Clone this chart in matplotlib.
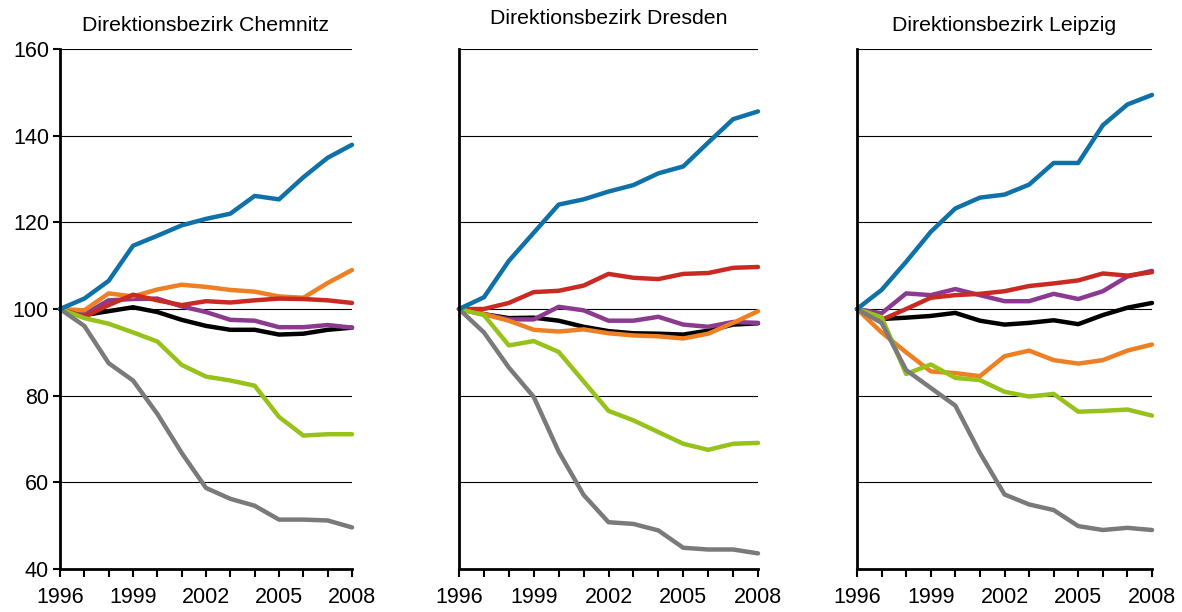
import matplotlib.pyplot as plt

plt.rcParams['font.family'] = ['Liberation Sans', 'DejaVu Sans']

years = list(range(1996, 2009))
titles = ['Direktionsbezirk Chemnitz', 'Direktionsbezirk Dresden', 'Direktionsbezirk Leipzig']

# index values per district (1996 = 100)
chemnitz = {
    'black':  [100, 98.6, 99.5, 100.4, 99.3, 97.5, 96.1, 95.2, 95.2, 94.1, 94.3, 95.2, 95.7],
    'purple': [100, 98.8, 102.0, 102.3, 102.4, 100.6, 99.3, 97.5, 97.3, 95.8, 95.8, 96.3, 95.7],
    'orange': [100, 99.7, 103.6, 102.9, 104.5, 105.6, 105.1, 104.4, 104.0, 102.9, 102.6, 106.0, 109.0],
    'red':    [100, 98.2, 100.9, 103.3, 102.0, 100.9, 101.8, 101.5, 102.0, 102.4, 102.3, 102.0, 101.4],
    'green':  [100, 97.9, 96.6, 94.6, 92.5, 87.1, 84.4, 83.5, 82.3, 75.1, 70.8, 71.1, 71.1],
    'grey':   [100, 96.1, 87.5, 83.5, 75.8, 66.8, 58.7, 56.2, 54.6, 51.4, 51.4, 51.2, 49.6],
    'blue':   [100, 102.4, 106.5, 114.6, 116.9, 119.3, 120.8, 122.0, 126.1, 125.3, 130.4, 134.9, 137.9],
}
dresden = {
    'black':  [100, 98.8, 97.9, 98.0, 97.3, 95.9, 94.9, 94.4, 94.3, 94.1, 95.0, 96.4, 96.7],
    'purple': [100, 98.8, 97.6, 97.6, 100.5, 99.7, 97.3, 97.3, 98.2, 96.4, 95.9, 97.0, 96.8],
    'orange': [100, 98.8, 97.3, 95.2, 94.8, 95.3, 94.4, 93.9, 93.7, 93.2, 94.3, 96.8, 99.5],
    'red':    [100, 100.0, 101.4, 103.9, 104.2, 105.4, 108.1, 107.2, 106.9, 108.1, 108.3, 109.5, 109.7],
    'green':  [100, 98.6, 91.6, 92.6, 90.1, 83.3, 76.5, 74.3, 71.6, 68.9, 67.5, 68.9, 69.1],
    'grey':   [100, 94.6, 86.5, 79.7, 67.1, 57.1, 50.8, 50.4, 48.9, 44.9, 44.5, 44.5, 43.6],
    'blue':   [100, 102.7, 111.1, 117.6, 124.1, 125.3, 127.1, 128.6, 131.3, 132.9, 138.4, 143.8, 145.6],
}
leipzig = {
    'black':  [100, 97.7, 98.0, 98.4, 99.1, 97.3, 96.4, 96.8, 97.4, 96.5, 98.6, 100.3, 101.4],
    'purple': [100, 99.0, 103.6, 103.2, 104.6, 103.2, 101.8, 101.8, 103.5, 102.3, 104.1, 107.5, 108.8],
    'orange': [100, 94.6, 90.0, 85.6, 85.2, 84.5, 89.1, 90.4, 88.2, 87.4, 88.2, 90.4, 91.8],
    'red':    [100, 97.5, 100.0, 102.6, 103.2, 103.5, 104.1, 105.3, 105.9, 106.6, 108.2, 107.7, 108.5],
    'green':  [100, 98.1, 85.0, 87.2, 84.1, 83.6, 80.9, 79.8, 80.4, 76.3, 76.5, 76.8, 75.4],
    'grey':   [100, 96.8, 85.9, 81.8, 77.7, 66.8, 57.2, 54.9, 53.6, 49.9, 49.0, 49.5, 49.0],
    'blue':   [100, 104.4, 110.9, 117.8, 123.2, 125.7, 126.4, 128.7, 133.7, 133.7, 142.4, 147.2, 149.4],
}
districts = [chemnitz, dresden, leipzig]

colors = {
    'black': '#000000',
    'purple': '#8B3A8F',
    'orange': '#EE7F22',
    'red': '#C92A22',
    'green': '#96C21A',
    'grey': '#7A7A7A',
    'blue': '#0E72A8',
}

fig = plt.figure(figsize=(11.82, 6.12), dpi=100)
lefts = [60, 459, 857]
rights = [352, 758, 1152]
title_pads = [13, 18, 13]

for i, data in enumerate(districts):
    l = lefts[i] / 1182
    w = (rights[i] - lefts[i]) / 1182
    ax = fig.add_axes([l, 1 - 569 / 612, w, 520 / 612])

    for name, vals in data.items():
        ax.plot(years, vals, color=colors[name], lw=3.2,
                solid_joinstyle='round', solid_capstyle='round', clip_on=False)

    # horizontal gridlines
    for g in range(60, 161, 20):
        ax.axhline(g, color='black', lw=0.8, zorder=0)

    ax.set_xlim(1996, 2008)
    ax.set_ylim(40, 160)
    ax.set_xticks(years)
    ax.set_xticklabels([str(y) if (y - 1996) % 3 == 0 else '' for y in years], fontsize=15.5)
    ax.tick_params(axis='x', direction='out', length=6, width=1.5, pad=7)
    if i == 0:
        ax.set_yticks(range(40, 161, 20))
        ax.tick_params(axis='y', direction='out', length=5, width=1.5, labelsize=15.5, pad=3)
    else:
        ax.set_yticks([])

    for s in ['top', 'right']:
        ax.spines[s].set_visible(False)
    ax.spines['left'].set_linewidth(2)
    ax.spines['bottom'].set_linewidth(2)

    ax.set_title(titles[i], fontsize=15.3, pad=title_pads[i])

fig.savefig('out.png', dpi=100)
